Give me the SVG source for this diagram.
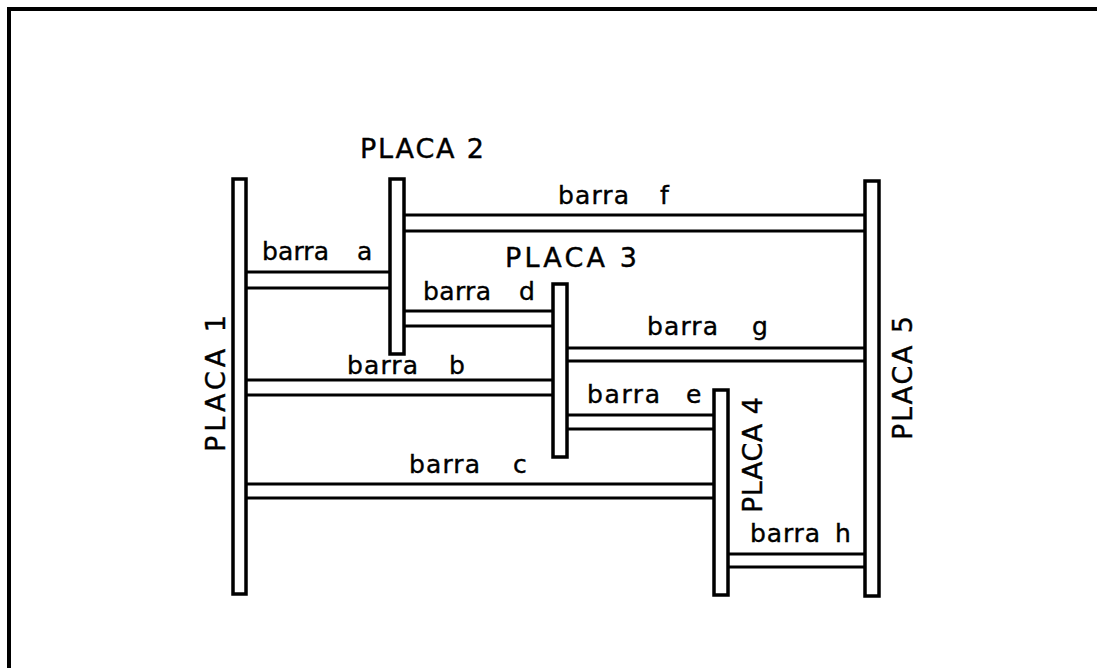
<svg xmlns="http://www.w3.org/2000/svg" width="1097" height="668" viewBox="0 0 1097 668">
<style>
.p{fill:#fff;stroke:#000;stroke-width:3.5}
.b{stroke:#000;stroke-width:3;fill:none}
text{font-family:"DejaVu Sans",sans-serif;font-size:25px;fill:#000;stroke:#000;stroke-width:.4}
.c{font-size:27px}
</style>
<rect width="1097" height="668" fill="#fff"/>
<path d="M9 668V9H1097" fill="none" stroke="#000" stroke-width="4"/>
<g id="connectors">
<path class="b" d="M246 272H390M246 288H390"/>
<path class="b" d="M404 215H865M404 231H865"/>
<path class="b" d="M404 311H553M404 326H553"/>
<path class="b" d="M246 380H553M246 395H553"/>
<path class="b" d="M567 348H865M567 361H865"/>
<path class="b" d="M567 415H714M567 429H714"/>
<path class="b" d="M247 484H714M247 498H714"/>
<path class="b" d="M728 554H865M728 567H865"/>
</g>
<g id="placa1"><rect class="p" x="233" y="179" width="13" height="415"/><text class="c" transform="translate(225 452) rotate(-90)" textLength="137" lengthAdjust="spacing">PLACA 1</text></g>
<g id="placa2"><rect class="p" x="390" y="179" width="14" height="175"/><text class="c" x="360" y="158" textLength="124" lengthAdjust="spacing">PLACA 2</text></g>
<g id="placa3"><rect class="p" x="553" y="284" width="14" height="173"/><text class="c" x="505" y="267" textLength="132" lengthAdjust="spacing">PLACA 3</text></g>
<g id="placa4"><rect class="p" x="714" y="390" width="14" height="205"/><text class="c" transform="translate(762 513) rotate(-90)" textLength="116" lengthAdjust="spacing">PLACA 4</text></g>
<g id="placa5"><rect class="p" x="865" y="181" width="14" height="415"/><text class="c" transform="translate(912 440) rotate(-90)" textLength="124" lengthAdjust="spacing">PLACA 5</text></g>
<g id="labels">
<text x="262" y="260" textLength="67" lengthAdjust="spacing">barra</text><text x="357" y="260">a</text>
<text x="423" y="300" textLength="68" lengthAdjust="spacing">barra</text><text x="519" y="300">d</text>
<text x="347" y="374" textLength="71" lengthAdjust="spacing">barra</text><text x="449" y="374">b</text>
<text x="558" y="204" textLength="71" lengthAdjust="spacing">barra</text><text x="660" y="204">f</text>
<text x="647" y="335" textLength="71" lengthAdjust="spacing">barra</text><text x="752" y="335">g</text>
<text x="587" y="403" textLength="73" lengthAdjust="spacing">barra</text><text x="686" y="403">e</text>
<text x="409" y="473" textLength="71" lengthAdjust="spacing">barra</text><text x="513" y="473">c</text>
<text x="750" y="542" textLength="70" lengthAdjust="spacing">barra</text><text x="835" y="542">h</text>
</g>
</svg>
